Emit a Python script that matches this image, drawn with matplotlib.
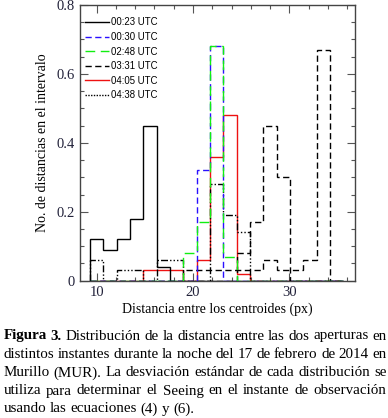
import matplotlib
matplotlib.use('Agg')
import matplotlib.pyplot as plt
from matplotlib.lines import Line2D
from matplotlib.ticker import MultipleLocator

# bin edges (px) and fraction of distances in each bin
bin_edges = [9.30, 10.69, 12.07, 13.46, 14.84, 16.23, 17.61, 19.00, 20.38, 21.77,
             23.15, 24.54, 25.92, 27.31, 28.69, 30.08, 31.46, 32.85, 34.23, 35.62]

h_0023 = [0.12, 0.09, 0.12, 0.18, 0.45, 0.04, 0, 0, 0, 0, 0, 0, 0, 0, 0, 0, 0, 0, 0]
h_0030 = [0, 0, 0, 0, 0, 0, 0, 0, 0.32, 0.68, 0, 0, 0, 0, 0, 0, 0, 0, 0]
h_0248 = [0, 0, 0, 0, 0, 0, 0, 0.08, 0.17, 0.68, 0.07, 0, 0, 0, 0, 0, 0, 0, 0]
h_0331 = [0, 0, 0, 0, 0, 0, 0, 0, 0, 0, 0, 0.08, 0.17, 0.45, 0.30, 0, 0, 0, 0]
h_0331b = [0, 0, 0, 0, 0, 0, 0, 0.03, 0.03, 0.03, 0.03, 0.03, 0.03, 0.06, 0.03, 0.03, 0.06, 0.67, 0]
h_0405 = [0, 0, 0, 0, 0.03, 0.03, 0.03, 0, 0.06, 0.36, 0.48, 0.02, 0, 0, 0, 0, 0, 0, 0]
h_0438 = [0.06, 0, 0.03, 0.03, 0, 0.06, 0.06, 0, 0, 0.28, 0.19, 0.14, 0, 0, 0, 0, 0, 0, 0]

labels = ['00:23 UTC', '00:30 UTC', '02:48 UTC', '03:31 UTC', '04:05 UTC', '04:38 UTC']

caption = [
    [('Figura', True), ('3.', True), ('Distribución', False), ('de', False), ('la', False),
     ('distancia', False), ('entre', False), ('las', False), ('dos', False),
     ('aperturas', False), ('en', False)],
    'distintos instantes durante la noche del 17 de febrero de 2014 en',
    'Murillo (MUR). La desviación estándar de cada distribución se',
    'utiliza para determinar el Seeing en el instante de observación',
    'usando las ecuaciones (4) y (6).',
]

W, H = 388, 418
fig = plt.figure(figsize=(W / 100, H / 100), dpi=100)
ax = fig.add_axes([80 / W, 1 - 280.7 / H, 275 / W, 275.7 / H])

lw = 1.0
dash_short = (0, (4.5, 2.5))
dash_long = (0, (7, 4))
dash_dot3 = (0, (5, 1.5, 1, 1.5, 1, 1.5, 1, 1.5))

ax.stairs(h_0405, bin_edges, baseline=0, color='#ee1111', lw=lw, zorder=2)
ax.stairs(h_0023, bin_edges, baseline=0, color='black', lw=lw, zorder=3)
ax.stairs(h_0438, bin_edges, baseline=0, color='black', lw=lw, ls=dash_dot3, zorder=3)
ax.stairs(h_0331, bin_edges, baseline=0, color='black', lw=lw, ls=dash_short, zorder=3)
ax.stairs(h_0331b, bin_edges, baseline=0, color='black', lw=lw, ls=dash_short, zorder=3)
ax.stairs(h_0030, bin_edges, baseline=0, color='#2a10ff', lw=lw, ls=dash_short, zorder=4)
ax.stairs(h_0248, bin_edges, baseline=0, color='#11ee11', lw=lw, ls=dash_long, zorder=5)

ax.set_xlim(8.27, 36.82)
ax.set_ylim(0, 0.8)
ax.set_xticks([10, 20, 30])
ax.set_xticklabels(['10', '20', '30'])
ax.set_yticks([0, 0.2, 0.4, 0.6, 0.8])
ax.set_yticklabels(['0', '0.2', '0.4', '0.6', '0.8'])
ax.xaxis.set_minor_locator(MultipleLocator(2))
ax.yaxis.set_minor_locator(MultipleLocator(0.05))
ax.tick_params(which='both', direction='in', top=True, right=True, color='#555555', width=0.8)
ax.tick_params(which='major', length=5.5, pad=4)
ax.tick_params(which='minor', length=2.8)
for lab in ax.get_xticklabels() + ax.get_yticklabels():
    lab.set_family('Liberation Serif')
    lab.set_fontsize(10.5)
    lab.set_color('#22223a')
for sp in ax.spines.values():
    sp.set_color('#444444')
    sp.set_linewidth(1.0)

ax.set_xlabel('Distancia entre los centroides (px)', family='Liberation Serif', fontsize=10, labelpad=2)
ax.set_ylabel('No. de distancias en el intervalo', family='Liberation Serif', fontsize=10, labelpad=5)

handles = [
    Line2D([], [], color='black', lw=lw),
    Line2D([], [], color='#2a10ff', lw=lw, ls=dash_short),
    Line2D([], [], color='#11ee11', lw=lw, ls=dash_long),
    Line2D([], [], color='black', lw=lw, ls=dash_short),
    Line2D([], [], color='#ee1111', lw=lw),
    Line2D([], [], color='black', lw=lw, ls=(0, (1, 1))),
]
leg = ax.legend(handles, labels, loc='upper left', bbox_to_anchor=(0.018, 0.955),
                frameon=False, borderpad=0, borderaxespad=0, handlelength=2.5,
                handletextpad=0.2, labelspacing=0.48,
                prop={'family': 'Liberation Sans', 'size': 6.9})

# justified caption
renderer = fig.canvas.get_renderer()
x_left, x_right = 3.5, 386.5
baselines = [339.5, 358, 376.5, 394.5, 412.5]
size = 10.8
for i, line in enumerate(caption):
    if isinstance(line, str):
        tokens = [(w, False) for w in line.split()]
    else:
        tokens = line
    texts, widths = [], []
    for word, bold in tokens:
        t = fig.text(0, 1 - baselines[i] / H, word, fontsize=size, family='Liberation Serif',
                     weight='bold' if bold else 'normal', ha='left', va='baseline')
        widths.append(t.get_window_extent(renderer).width)
        texts.append(t)
    if i < len(caption) - 1:
        gap = (x_right - x_left - sum(widths)) / (len(tokens) - 1)
    else:
        gap = 0.25 * size * 100 / 72
    x = x_left
    for t, w in zip(texts, widths):
        t.set_x(x / W)
        x += w + gap

fig.savefig('out.png', dpi=100)
